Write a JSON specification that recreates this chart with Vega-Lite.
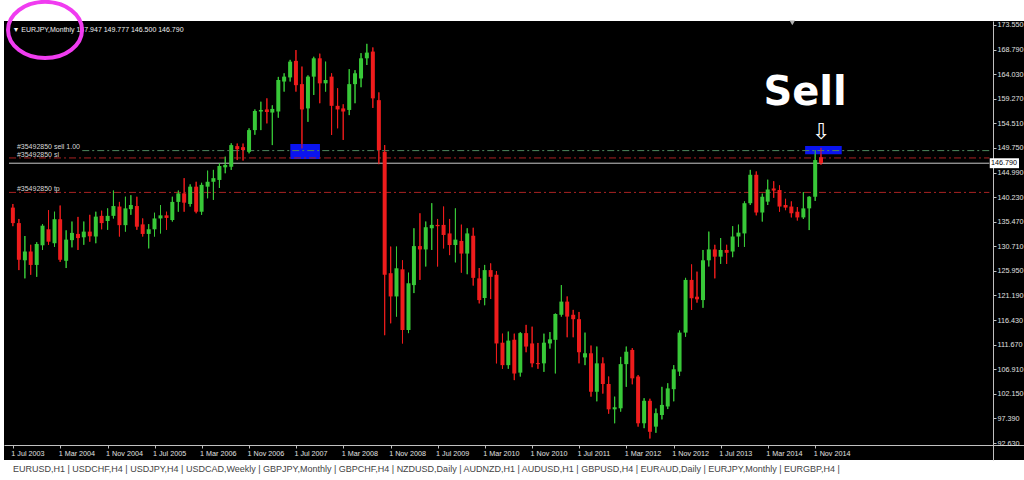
{
"$schema":"https://vega.github.io/schema/vega-lite/v6.json",
"width":1020,"height":439,
"autosize":{"type":"none"},
"padding":{"left":4,"top":21,"right":0,"bottom":20},
"background":"white",
"view":{"fill":"black","stroke":null},
"config":{"axis":{"grid":false,"labelFont":"Liberation Sans","labelFontSize":7.2,"labelColor":"#e0e0e0","tickColor":"#c0c0c0","tickSize":3,"domainColor":"#c0c0c0","labelOverlap":false,"labelFlush":false,"labelBound":false,"title":null}},
"title":{"text":"EURUSD,H1   |   USDCHF,H4   |   USDJPY,H4   |   USDCAD,Weekly   |   GBPJPY,Monthly   |   GBPCHF,H4   |   NZDUSD,Daily   |   AUDNZD,H1   |   AUDUSD,H1   |   GBPUSD,H4   |   EURAUD,Daily   |   EURJPY,Monthly   |   EURGBP,H4   |","orient":"bottom","anchor":"start","frame":"group","offset":5,"dx":9,"font":"Liberation Sans","fontSize":9,"fontWeight":"normal","color":"#444444"},
"datasets":{
"candles":[
{"d":"2003-07-01","o":138.2,"h":138.9,"l":134.6,"c":135.2},
{"d":"2003-08-01","o":135.2,"h":136.0,"l":126.1,"c":128.1},
{"d":"2003-09-01","o":128.0,"h":132.7,"l":124.5,"c":129.7},
{"d":"2003-10-01","o":129.7,"h":131.0,"l":125.2,"c":127.1},
{"d":"2003-11-01","o":127.1,"h":131.5,"l":124.8,"c":131.15},
{"d":"2003-12-01","o":130.9,"h":135.0,"l":130.0,"c":134.7},
{"d":"2004-01-01","o":134.0,"h":137.7,"l":131.0,"c":131.6},
{"d":"2004-02-01","o":131.3,"h":137.4,"l":130.6,"c":135.95},
{"d":"2004-03-01","o":135.95,"h":138.6,"l":127.7,"c":128.1},
{"d":"2004-04-01","o":127.9,"h":133.8,"l":126.5,"c":132.0},
{"d":"2004-05-01","o":131.9,"h":135.5,"l":130.5,"c":133.3},
{"d":"2004-06-01","o":133.1,"h":136.4,"l":130.0,"c":132.3},
{"d":"2004-07-01","o":132.45,"h":135.5,"l":131.0,"c":133.55},
{"d":"2004-08-01","o":133.55,"h":136.8,"l":131.6,"c":132.65},
{"d":"2004-09-01","o":132.6,"h":137.4,"l":131.3,"c":136.45},
{"d":"2004-10-01","o":136.6,"h":137.6,"l":134.0,"c":135.2},
{"d":"2004-11-01","o":135.6,"h":138.05,"l":133.9,"c":136.6},
{"d":"2004-12-01","o":136.6,"h":141.5,"l":136.1,"c":138.5},
{"d":"2005-01-01","o":138.4,"h":139.3,"l":132.6,"c":134.8},
{"d":"2005-02-01","o":134.8,"h":140.3,"l":133.55,"c":138.05},
{"d":"2005-03-01","o":137.9,"h":140.6,"l":136.8,"c":138.7},
{"d":"2005-04-01","o":138.5,"h":140.3,"l":133.9,"c":134.5},
{"d":"2005-05-01","o":134.95,"h":136.1,"l":132.6,"c":133.1},
{"d":"2005-06-01","o":133.1,"h":135.0,"l":130.3,"c":134.0},
{"d":"2005-07-01","o":134.0,"h":137.2,"l":132.6,"c":136.1},
{"d":"2005-08-01","o":136.1,"h":138.7,"l":133.2,"c":136.7},
{"d":"2005-09-01","o":136.7,"h":137.4,"l":133.9,"c":136.2},
{"d":"2005-10-01","o":135.8,"h":140.3,"l":135.5,"c":139.3},
{"d":"2005-11-01","o":139.3,"h":141.5,"l":137.4,"c":140.95},
{"d":"2005-12-01","o":140.95,"h":143.9,"l":137.4,"c":139.15},
{"d":"2006-01-01","o":138.9,"h":142.7,"l":138.4,"c":142.25},
{"d":"2006-02-01","o":142.25,"h":143.2,"l":137.1,"c":137.4},
{"d":"2006-03-01","o":137.4,"h":143.0,"l":136.8,"c":142.6},
{"d":"2006-04-01","o":142.25,"h":145.35,"l":140.0,"c":143.2},
{"d":"2006-05-01","o":143.2,"h":145.5,"l":139.7,"c":143.9},
{"d":"2006-06-01","o":143.55,"h":146.8,"l":142.0,"c":146.25},
{"d":"2006-07-01","o":146.0,"h":148.05,"l":144.85,"c":146.45},
{"d":"2006-08-01","o":146.1,"h":150.65,"l":145.5,"c":150.3},
{"d":"2006-09-01","o":150.1,"h":150.6,"l":147.4,"c":149.5},
{"d":"2006-10-01","o":149.9,"h":150.6,"l":147.3,"c":149.35},
{"d":"2006-11-01","o":149.0,"h":153.55,"l":148.7,"c":153.2},
{"d":"2006-12-01","o":153.2,"h":157.2,"l":152.3,"c":156.9},
{"d":"2007-01-01","o":156.8,"h":158.7,"l":153.2,"c":157.1},
{"d":"2007-02-01","o":157.2,"h":159.35,"l":154.5,"c":156.7},
{"d":"2007-03-01","o":156.6,"h":158.0,"l":150.3,"c":157.3},
{"d":"2007-04-01","o":156.8,"h":163.5,"l":155.6,"c":162.9},
{"d":"2007-05-01","o":162.6,"h":164.2,"l":160.65,"c":163.55},
{"d":"2007-06-01","o":163.4,"h":166.8,"l":162.6,"c":166.45},
{"d":"2007-07-01","o":166.6,"h":168.7,"l":160.65,"c":161.9},
{"d":"2007-08-01","o":162.1,"h":165.5,"l":149.65,"c":157.2},
{"d":"2007-09-01","o":157.4,"h":163.8,"l":154.8,"c":163.55},
{"d":"2007-10-01","o":163.55,"h":167.4,"l":160.0,"c":167.1},
{"d":"2007-11-01","o":167.1,"h":168.0,"l":158.4,"c":162.25},
{"d":"2007-12-01","o":162.25,"h":166.45,"l":160.65,"c":162.9},
{"d":"2008-01-01","o":163.55,"h":164.2,"l":152.25,"c":157.9},
{"d":"2008-02-01","o":157.9,"h":161.3,"l":153.55,"c":157.2},
{"d":"2008-03-01","o":157.4,"h":158.2,"l":151.3,"c":156.8},
{"d":"2008-04-01","o":157.1,"h":165.0,"l":156.1,"c":162.1},
{"d":"2008-05-01","o":162.1,"h":164.8,"l":158.4,"c":164.2},
{"d":"2008-06-01","o":163.2,"h":168.1,"l":161.5,"c":167.1},
{"d":"2008-07-01","o":167.1,"h":169.9,"l":165.8,"c":168.2},
{"d":"2008-08-01","o":168.4,"h":169.2,"l":157.5,"c":159.35},
{"d":"2008-09-01","o":159.0,"h":160.5,"l":146.6,"c":149.35},
{"d":"2008-10-01","o":149.0,"h":150.3,"l":113.5,"c":125.2},
{"d":"2008-11-01","o":125.5,"h":130.65,"l":115.8,"c":121.0},
{"d":"2008-12-01","o":121.0,"h":130.65,"l":117.1,"c":126.45},
{"d":"2009-01-01","o":126.25,"h":128.0,"l":111.9,"c":114.5},
{"d":"2009-02-01","o":114.5,"h":125.6,"l":113.9,"c":123.55},
{"d":"2009-03-01","o":123.2,"h":134.2,"l":121.65,"c":130.75},
{"d":"2009-04-01","o":130.75,"h":137.1,"l":124.2,"c":130.1},
{"d":"2009-05-01","o":130.1,"h":135.5,"l":126.8,"c":134.4},
{"d":"2009-06-01","o":134.2,"h":139.05,"l":130.0,"c":134.85},
{"d":"2009-07-01","o":134.85,"h":136.0,"l":126.8,"c":134.6},
{"d":"2009-08-01","o":134.85,"h":138.4,"l":130.3,"c":132.9},
{"d":"2009-09-01","o":133.2,"h":136.0,"l":129.0,"c":130.95},
{"d":"2009-10-01","o":130.95,"h":138.05,"l":127.6,"c":132.0},
{"d":"2009-11-01","o":131.75,"h":134.9,"l":125.6,"c":129.3},
{"d":"2009-12-01","o":129.3,"h":134.2,"l":125.3,"c":133.2},
{"d":"2010-01-01","o":132.75,"h":134.3,"l":123.1,"c":124.6},
{"d":"2010-02-01","o":124.5,"h":126.5,"l":119.65,"c":120.3},
{"d":"2010-03-01","o":120.7,"h":127.1,"l":119.3,"c":126.1},
{"d":"2010-04-01","o":126.1,"h":127.4,"l":120.5,"c":124.8},
{"d":"2010-05-01","o":125.2,"h":125.9,"l":108.05,"c":111.9},
{"d":"2010-06-01","o":112.05,"h":113.8,"l":107.0,"c":107.7},
{"d":"2010-07-01","o":107.7,"h":114.2,"l":107.0,"c":112.45},
{"d":"2010-08-01","o":112.6,"h":113.8,"l":104.8,"c":106.1},
{"d":"2010-09-01","o":106.25,"h":114.1,"l":105.5,"c":113.9},
{"d":"2010-10-01","o":113.9,"h":115.5,"l":110.2,"c":111.3},
{"d":"2010-11-01","o":111.9,"h":115.15,"l":107.3,"c":108.05},
{"d":"2010-12-01","o":108.1,"h":112.0,"l":107.0,"c":107.9},
{"d":"2011-01-01","o":108.05,"h":113.8,"l":106.4,"c":112.05},
{"d":"2011-02-01","o":111.9,"h":114.1,"l":110.9,"c":112.7},
{"d":"2011-03-01","o":112.6,"h":117.7,"l":106.1,"c":117.6},
{"d":"2011-04-01","o":117.45,"h":123.2,"l":117.1,"c":120.0},
{"d":"2011-05-01","o":120.0,"h":121.0,"l":113.1,"c":117.1},
{"d":"2011-06-01","o":117.45,"h":118.4,"l":113.1,"c":116.6},
{"d":"2011-07-01","o":116.6,"h":118.0,"l":108.05,"c":110.2},
{"d":"2011-08-01","o":109.2,"h":114.0,"l":107.7,"c":110.0},
{"d":"2011-09-01","o":110.0,"h":111.5,"l":101.6,"c":102.55},
{"d":"2011-10-01","o":102.55,"h":111.3,"l":100.7,"c":108.05},
{"d":"2011-11-01","o":108.05,"h":109.2,"l":102.2,"c":104.05},
{"d":"2011-12-01","o":104.05,"h":105.5,"l":98.3,"c":99.15},
{"d":"2012-01-01","o":99.15,"h":101.6,"l":96.45,"c":99.55},
{"d":"2012-02-01","o":99.35,"h":109.3,"l":98.7,"c":107.9},
{"d":"2012-03-01","o":107.9,"h":111.3,"l":103.5,"c":110.3},
{"d":"2012-04-01","o":110.65,"h":111.0,"l":104.0,"c":105.15},
{"d":"2012-05-01","o":105.5,"h":105.8,"l":95.8,"c":96.45},
{"d":"2012-06-01","o":96.45,"h":101.3,"l":95.5,"c":100.8},
{"d":"2012-07-01","o":100.8,"h":101.2,"l":93.5,"c":94.8},
{"d":"2012-08-01","o":95.8,"h":99.3,"l":94.6,"c":98.4},
{"d":"2012-09-01","o":98.05,"h":103.5,"l":97.2,"c":100.0},
{"d":"2012-10-01","o":99.7,"h":104.2,"l":99.2,"c":103.2},
{"d":"2012-11-01","o":103.05,"h":107.7,"l":100.7,"c":106.9},
{"d":"2012-12-01","o":106.45,"h":114.4,"l":105.6,"c":114.0},
{"d":"2013-01-01","o":114.0,"h":124.6,"l":113.2,"c":124.2},
{"d":"2013-02-01","o":124.2,"h":127.2,"l":118.4,"c":120.65},
{"d":"2013-03-01","o":120.95,"h":125.8,"l":119.8,"c":120.45},
{"d":"2013-04-01","o":120.3,"h":130.0,"l":118.8,"c":128.0},
{"d":"2013-05-01","o":128.0,"h":133.55,"l":126.8,"c":130.1},
{"d":"2013-06-01","o":130.1,"h":131.0,"l":124.5,"c":128.7},
{"d":"2013-07-01","o":128.7,"h":132.3,"l":127.3,"c":130.0},
{"d":"2013-08-01","o":130.0,"h":131.0,"l":127.3,"c":129.45},
{"d":"2013-09-01","o":129.7,"h":134.6,"l":128.6,"c":132.6},
{"d":"2013-10-01","o":132.6,"h":134.9,"l":130.6,"c":133.35},
{"d":"2013-11-01","o":133.2,"h":139.4,"l":130.6,"c":139.05},
{"d":"2013-12-01","o":139.05,"h":145.5,"l":138.7,"c":144.55},
{"d":"2014-01-01","o":144.55,"h":145.2,"l":136.7,"c":137.25},
{"d":"2014-02-01","o":137.25,"h":140.9,"l":135.5,"c":140.3},
{"d":"2014-03-01","o":139.35,"h":143.6,"l":138.7,"c":141.7},
{"d":"2014-04-01","o":141.9,"h":143.3,"l":140.1,"c":141.5},
{"d":"2014-05-01","o":141.6,"h":142.5,"l":137.4,"c":138.4},
{"d":"2014-06-01","o":138.7,"h":139.9,"l":137.7,"c":138.2},
{"d":"2014-07-01","o":138.4,"h":139.4,"l":136.3,"c":137.1},
{"d":"2014-08-01","o":137.4,"h":138.3,"l":135.7,"c":136.3},
{"d":"2014-09-01","o":136.3,"h":141.2,"l":136.0,"c":138.05},
{"d":"2014-10-01","o":138.05,"h":140.4,"l":133.85,"c":140.3},
{"d":"2014-11-01","o":140.3,"h":149.35,"l":139.5,"c":147.4},
{"d":"2014-12-01","o":147.947,"h":149.777,"l":146.5,"c":146.79}
]
},
"layer":[
{"data":{"name":"candles"},
 "mark":{"type":"rule","strokeWidth":1},
 "encoding":{
  "x":{"field":"d","type":"temporal","title":null,"scale":{"type":"utc","domain":[{"year":2003,"month":6,"date":11,"utc":true},{"year":2017,"month":9,"date":18,"utc":true}]},
   "axis":{"title":null,"orient":"bottom","offset":-15,"tickCount":40,"values":[{"year":2003,"month":7,"date":1,"utc":true},{"year":2004,"month":3,"date":1,"utc":true},{"year":2004,"month":11,"date":1,"utc":true},{"year":2005,"month":7,"date":1,"utc":true},{"year":2006,"month":3,"date":1,"utc":true},{"year":2006,"month":11,"date":1,"utc":true},{"year":2007,"month":7,"date":1,"utc":true},{"year":2008,"month":3,"date":1,"utc":true},{"year":2008,"month":11,"date":1,"utc":true},{"year":2009,"month":7,"date":1,"utc":true},{"year":2010,"month":3,"date":1,"utc":true},{"year":2010,"month":11,"date":1,"utc":true},{"year":2011,"month":7,"date":1,"utc":true},{"year":2012,"month":3,"date":1,"utc":true},{"year":2012,"month":11,"date":1,"utc":true},{"year":2013,"month":7,"date":1,"utc":true},{"year":2014,"month":3,"date":1,"utc":true},{"year":2014,"month":11,"date":1,"utc":true}],
    "format":"%-d %b %Y","labelAlign":"left","labelOffset":-2,"labelPadding":1,"grid":false,"labelOverlap":false}},
  "y":{"field":"l","type":"quantitative","title":null,"scale":{"domain":[89.34,174.32],"zero":false,"nice":false},
   "axis":{"title":null,"orient":"right","offset":-31,"tickCount":40,"values":[92.63,97.39,102.15,106.91,111.67,116.43,121.19,125.95,130.71,135.47,140.23,144.99,149.75,154.51,159.27,164.03,168.79,173.55],"format":".3f","labelPadding":1,"grid":false,"labelOverlap":false}},
  "y2":{"field":"h"},
  "color":{"condition":{"test":"datum.c >= datum.o","value":"#38c838"},"value":"#ee1c1c"}}},
{"data":{"values":[{"x1":"2007-06-02","x2":"2007-11-02","y1":147.61,"y2":150.51},{"x1":"2014-09-10","x2":"2015-03-18","y1":148.52,"y2":150.13}],"format":{"parse":{"x1":"date","x2":"date"}}},
 "mark":{"type":"rect","color":"#0a14f0"},
 "encoding":{
  "x":{"field":"x1","type":"temporal","title":null},
  "x2":{"field":"x2"},
  "y":{"field":"y1","type":"quantitative","title":null},
  "y2":{"field":"y2"}}},
{"data":{"values":[{"p":149.23}]},
 "mark":{"type":"rule","color":"#4f8a5f","strokeWidth":1,"strokeDash":[7,3,2,3]},
 "encoding":{
  "x":{"datum":{"year":2004,"month":6,"date":23,"utc":true},"type":"temporal","title":null},
  "x2":{"datum":{"year":2017,"month":4,"date":18,"utc":true}},
  "y":{"field":"p","type":"quantitative","title":null}}},
{"data":{"values":[{"p":147.81},{"p":141.14}]},
 "mark":{"type":"rule","color":"#a82222","strokeWidth":1,"strokeDash":[7,3,2,3]},
 "encoding":{
  "x":{"datum":{"year":2003,"month":6,"date":11,"utc":true},"type":"temporal","title":null},
  "x2":{"datum":{"year":2017,"month":4,"date":18,"utc":true}},
  "y":{"field":"p","type":"quantitative","title":null}}},
{"data":{"values":[{"p":146.79}]},
 "mark":{"type":"rule","color":"#c8c8c8","strokeWidth":1},
 "encoding":{
  "x":{"datum":{"year":2003,"month":6,"date":11,"utc":true},"type":"temporal","title":null},
  "x2":{"datum":{"year":2017,"month":4,"date":18,"utc":true}},
  "y":{"field":"p","type":"quantitative","title":null}}},
{"data":{"name":"candles"},
 "mark":{"type":"rule","strokeWidth":1},
 "encoding":{
  "x":{"field":"d","type":"temporal","title":null},
  "y":{"field":"l","type":"quantitative","title":null},
  "y2":{"field":"h"},
  "color":{"condition":{"test":"datum.c >= datum.o","value":"#38c838"},"value":"#ee1c1c"}}},
{"data":{"name":"candles"},
 "mark":{"type":"bar","size":4},
 "encoding":{
  "x":{"field":"d","type":"temporal","title":null},
  "y":{"field":"o","type":"quantitative","title":null},
  "y2":{"field":"c"},
  "color":{"condition":{"test":"datum.c >= datum.o","value":"#38c838"},"value":"#ee1c1c"}}},
{"data":{"values":[{"x":"2003-07-22","p":149.93,"t":"#35492850 sell 1.00"},{"x":"2003-07-22","p":148.39,"t":"#35492850 sl"},{"x":"2003-07-22","p":141.71,"t":"#35492850 tp"}]},
 "mark":{"type":"text","align":"left","baseline":"middle","font":"Liberation Sans","fontSize":7,"color":"#d8d8d8"},
 "encoding":{
  "x":{"field":"x","type":"temporal","title":null},
  "y":{"field":"p","type":"quantitative","title":null},
  "text":{"field":"t"}}},
{"data":{"values":[{"x":"2003-06-29","p":172.58,"t":"▼ EURJPY,Monthly  147.947 149.777 146.500 146.790"}]},
 "mark":{"type":"text","align":"left","baseline":"middle","font":"Liberation Sans","fontSize":7,"color":"#f0f0f0"},
 "encoding":{
  "x":{"field":"x","type":"temporal","title":null},
  "y":{"field":"p","type":"quantitative","title":null},
  "text":{"field":"t"}}},
{"data":{"values":[{"x":"2014-09-10","p":160.4,"t":"Sell"}]},
 "mark":{"type":"text","align":"center","baseline":"middle","font":"DejaVu Sans","fontWeight":"bold","fontSize":40,"color":"white"},
 "encoding":{
  "x":{"field":"x","type":"temporal","title":null},
  "y":{"field":"p","type":"quantitative","title":null},
  "text":{"field":"t"}}},
{"data":{"values":[{"x":"2014-12-01","p":152.9,"t":"⇩"}]},
 "mark":{"type":"text","align":"center","baseline":"middle","font":"DejaVu Sans","fontSize":22,"color":"white"},
 "encoding":{
  "x":{"field":"x","type":"temporal","title":null},
  "y":{"field":"p","type":"quantitative","title":null},
  "text":{"field":"t"}}},
{"data":{"values":[{"x":"2014-07-06","p":173.94}]},
 "mark":{"type":"point","shape":"triangle-down","filled":true,"size":30,"color":"#b0b0b0","opacity":1},
 "encoding":{
  "x":{"field":"x","type":"temporal","title":null},
  "y":{"field":"p","type":"quantitative","title":null}}},
{"data":{"values":[{"x1":"2017-04-20","x2":"2017-09-18","y1":145.83,"y2":147.75}],"format":{"parse":{"x1":"date","x2":"date"}}},
 "mark":{"type":"rect","color":"white"},
 "encoding":{
  "x":{"field":"x1","type":"temporal","title":null},
  "x2":{"field":"x2"},
  "y":{"field":"y1","type":"quantitative","title":null},
  "y2":{"field":"y2"}}},
{"data":{"values":[{"x":"2017-04-26","p":146.79,"t":"146.790"}]},
 "mark":{"type":"text","align":"left","baseline":"middle","font":"Liberation Sans","fontSize":7.2,"color":"black"},
 "encoding":{
  "x":{"field":"x","type":"temporal","title":null},
  "y":{"field":"p","type":"quantitative","title":null},
  "text":{"field":"t"}}},
{"data":{"values":[{"x":"2003-12-14","p":172.58}]},
 "mark":{"type":"point","shape":"M -1 0 A 1 0.76 0 1 1 1 0 A 1 0.76 0 1 1 -1 0 Z","filled":false,"size":5476,"stroke":"#f03cf0","strokeWidth":4,"opacity":1},
 "encoding":{
  "x":{"field":"x","type":"temporal","title":null},
  "y":{"field":"p","type":"quantitative","title":null}}}
]
}
